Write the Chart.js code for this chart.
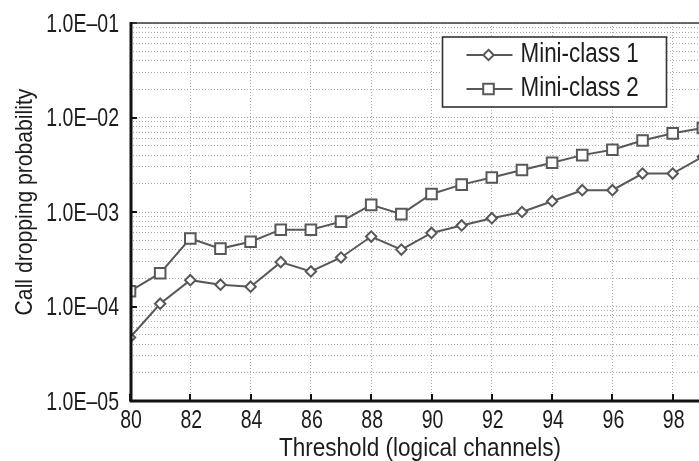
<!DOCTYPE html>
<html>
<head>
<meta charset="utf-8">
<script src="https://cdn.jsdelivr.net/npm/chart.js@4/dist/chart.umd.min.js"></script>
<style>
  html, body { margin: 0; padding: 0; background: #fff; overflow: hidden; width: 699px; height: 461px; }
  canvas { display: block; }
</style>
</head>
<body>
<canvas id="c" width="733" height="461"></canvas>
<script>
// Threshold values (logical channels)
const thresholds = [80, 81, 82, 83, 84, 85, 86, 87, 88, 89, 90, 91, 92, 93, 94, 95, 96, 97, 98, 99];

// Call dropping probability per mini-class
const miniClass1 = [4.7e-5, 1.07e-4, 1.9e-4, 1.7e-4, 1.62e-4, 2.95e-4, 2.35e-4, 3.3e-4, 5.5e-4, 4.0e-4,
                    6.0e-4, 7.2e-4, 8.6e-4, 1.0e-3, 1.3e-3, 1.7e-3, 1.7e-3, 2.55e-3, 2.55e-3, 3.85e-3];
const miniClass2 = [1.45e-4, 2.25e-4, 5.25e-4, 4.1e-4, 4.85e-4, 6.5e-4, 6.5e-4, 7.9e-4, 1.19e-3, 9.5e-4,
                    1.55e-3, 1.95e-3, 2.32e-3, 2.78e-3, 3.32e-3, 4.0e-3, 4.55e-3, 5.7e-3, 6.8e-3, 7.75e-3];

const seriesNames = ['Mini-class 1', 'Mini-class 2'];
const xTitle = 'Threshold (logical channels)';
const yTitle = 'Call dropping probability';

const FONT = "'Liberation Sans', Arial, sans-serif";
const INK = '#585858';
const TEXT = '#1c1c1c';

function decadeLabel(v) {
  const e = Math.round(Math.log10(v));
  const m = v / Math.pow(10, e);
  if (Math.abs(m - 1) > 1e-6) return '';
  const a = Math.abs(e);
  return '1.0E' + (e < 0 ? '\u2013' : '+') + (a < 10 ? '0' : '') + a;
}

// Condensed text: the face is squeezed horizontally by sx
function text(ctx, str, x, y, size, sx, align, rot) {
  ctx.save();
  ctx.translate(x, y);
  if (rot) ctx.rotate(rot);
  ctx.scale(sx, 1);
  ctx.font = size + 'px ' + FONT;
  ctx.fillStyle = TEXT;
  ctx.textAlign = align;
  ctx.textBaseline = 'alphabetic';
  ctx.fillText(str, 0, 0);
  ctx.restore();
}

function drawMarker(ctx, style, x, y) {
  ctx.beginPath();
  if (style === 'rectRot') {
    const r = 5.2;
    ctx.moveTo(x, y - r); ctx.lineTo(x + r, y); ctx.lineTo(x, y + r); ctx.lineTo(x - r, y); ctx.closePath();
  } else {
    const h = 5.3;
    ctx.rect(x - h, y - h, 2 * h, 2 * h);
  }
  ctx.fill(); ctx.stroke();
}

// Frame, inward tick marks, tick labels, axis titles and the boxed legend
const framePlugin = {
  id: 'frame',
  afterDraw(chart) {
    const { ctx, chartArea: a, scales } = chart;
    ctx.save();
    // inward ticks
    ctx.strokeStyle = '#111';
    ctx.lineWidth = 2;
    scales.y.ticks.forEach(t => {
      if (!decadeLabel(t.value)) return;
      const py = Math.round(scales.y.getPixelForValue(t.value));
      ctx.beginPath(); ctx.moveTo(a.left, py); ctx.lineTo(a.left + 7, py); ctx.stroke();
    });
    scales.x.ticks.forEach(t => {
      const px = Math.round(scales.x.getPixelForValue(t.value));
      ctx.beginPath(); ctx.moveTo(px, a.bottom); ctx.lineTo(px, a.bottom - 7); ctx.stroke();
    });
    // top border (thin)
    ctx.strokeStyle = '#3a3a3a';
    ctx.lineWidth = 1.6;
    ctx.beginPath(); ctx.moveTo(a.left, a.top); ctx.lineTo(a.right, a.top); ctx.stroke();
    // left and bottom axes (thick)
    ctx.strokeStyle = '#111';
    ctx.lineWidth = 3;
    ctx.beginPath();
    ctx.moveTo(a.left + 1, a.top - 1);
    ctx.lineTo(a.left + 1, a.bottom);
    ctx.lineTo(a.right, a.bottom);
    ctx.stroke();

    // tick labels
    const TS = 25, TSX = 0.78, CAP = 0.70;
    scales.y.ticks.forEach(t => {
      const lab = decadeLabel(t.value);
      if (!lab) return;
      const py = scales.y.getPixelForValue(t.value);
      text(ctx, lab, a.left - 11, py + TS * CAP / 2, TS, TSX, 'right');
    });
    scales.x.ticks.forEach(t => {
      if (t.value >= 100) return;
      const px = scales.x.getPixelForValue(t.value);
      text(ctx, String(t.value), px + 1, a.bottom + 26.5, TS, TSX, 'center');
    });

    // axis titles
    text(ctx, xTitle, 420, 456, 25.5, 0.885, 'center');
    text(ctx, yTitle, 31.5, 202, 24.3, 0.87, 'center', -Math.PI / 2);

    // legend box
    const bx = 442.5, by = 37, bw = 224, bh = 70;
    ctx.fillStyle = '#fff';
    ctx.fillRect(bx, by, bw, bh);
    ctx.strokeStyle = '#333';
    ctx.lineWidth = 1.6;
    ctx.strokeRect(bx, by, bw, bh);
    chart.data.datasets.forEach((ds, i) => {
      const ly = by + 18 + i * 34;
      ctx.strokeStyle = ds.borderColor;
      ctx.lineWidth = 2;
      ctx.beginPath(); ctx.moveTo(bx + 24, ly); ctx.lineTo(bx + 70, ly); ctx.stroke();
      ctx.fillStyle = '#fff';
      drawMarker(ctx, ds.pointStyle, bx + 46, ly);
      text(ctx, ds.label, bx + 78, ly + 6.5, 27, 0.83, 'left');
    });
    ctx.restore();
  }
};

new Chart(document.getElementById('c'), {
  type: 'line',
  data: {
    datasets: [
      {
        label: seriesNames[0],
        data: thresholds.map((x, i) => ({ x, y: miniClass1[i] })),
        borderColor: INK, borderWidth: 2,
        pointStyle: 'rectRot', pointRadius: 5.2, pointBorderWidth: 2,
        pointBackgroundColor: '#fff', pointBorderColor: INK,
        tension: 0
      },
      {
        label: seriesNames[1],
        data: thresholds.map((x, i) => ({ x, y: miniClass2[i] })),
        borderColor: INK, borderWidth: 2,
        pointStyle: 'rect', pointRadius: 7.5, pointBorderWidth: 2,
        pointBackgroundColor: '#fff', pointBorderColor: INK,
        tension: 0
      }
    ]
  },
  options: {
    responsive: false,
    animation: false,
    devicePixelRatio: 1,
    layout: { autoPadding: false, padding: { top: 23, right: 0, left: 0, bottom: 0 } },
    plugins: { legend: { display: false }, tooltip: { enabled: false } },
    scales: {
      x: {
        type: 'linear',
        min: 80, max: 100,
        afterFit(s) { s.height = 60; s.paddingRight = 0; s.paddingLeft = 0; },
        ticks: { stepSize: 2, display: false },
        grid: { color: '#ababab', lineWidth: 1, drawTicks: false },
        border: { display: false, dash: [1, 2] }
      },
      y: {
        type: 'logarithmic',
        min: 1e-5, max: 1e-1,
        afterFit(s) { s.width = 130; },
        afterBuildTicks(s) {
          const t = [];
          for (let e = -5; e <= -2; e++) for (let m = 1; m <= 9; m++) t.push({ value: m * Math.pow(10, e) });
          t.push({ value: 1e-1 });
          s.ticks = t;
        },
        ticks: { autoSkip: false, display: false },
        grid: { color: '#ababab', lineWidth: 1, drawTicks: false },
        border: { display: false, dash: [1, 2] }
      }
    }
  },
  plugins: [framePlugin]
});
</script>
</body>
</html>
